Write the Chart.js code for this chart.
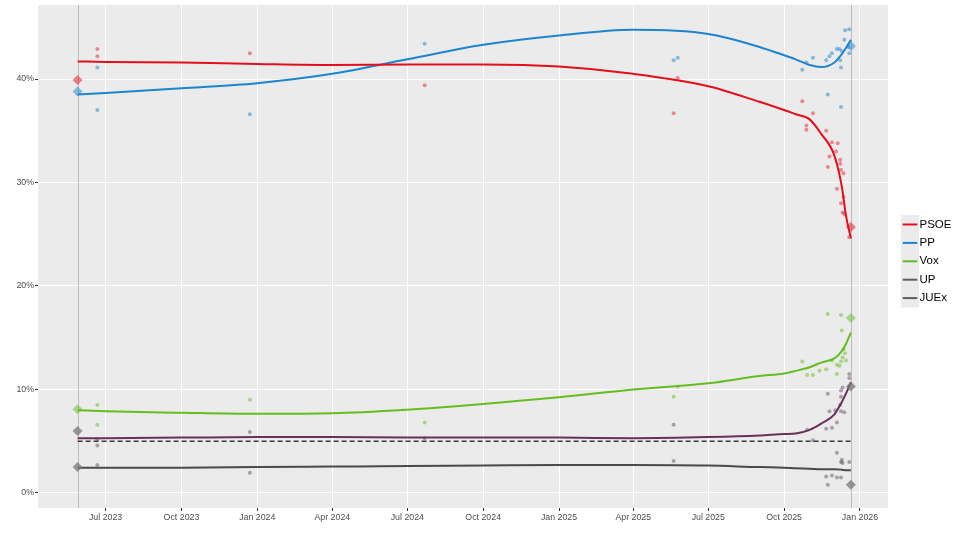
<!DOCTYPE html>
<html>
<head>
<meta charset="utf-8">
<script src="https://cdn.jsdelivr.net/npm/chart.js@4.4.1/dist/chart.umd.min.js"></script>
<style>
  html, body { margin: 0; padding: 0; background: #fff; }
  #wrap { width: 960px; height: 534px; }
</style>
</head>
<body>
<div id="wrap"><canvas id="pollChart" width="960" height="534"></canvas></div>
<script>
/* Data */
const parties = ['PSOE', 'PP', 'Vox', 'UP', 'JUEx'];
const tickDates = ['2023-07-01', '2023-10-01', '2024-01-01', '2024-04-01', '2024-07-01', '2024-10-01',
  '2025-01-01', '2025-04-01', '2025-07-01', '2025-10-01', '2026-01-01'];
const tickLabels = ['Jul 2023', 'Oct 2023', 'Jan 2024', 'Apr 2024', 'Jul 2024', 'Oct 2024',
  'Jan 2025', 'Apr 2025', 'Jul 2025', 'Oct 2025', 'Jan 2026'];
const yTicks = [0, 10, 20, 30, 40];
const axisStart = '2023-04-10';
const axisEnd = '2026-02-04';

// election days (results as diamonds)
const electionDates = ['2023-05-28', '2025-12-21'];
const psoeResults = [39.9, 25.7];
const ppResults = [38.8, 43.2];
const voxResults = [8.1, 16.9];
const upResults = [6.0, 10.3];
const juexResults = [2.5, 0.8];
const thresholdLine = [5, 5];

// smoothed trends
const trendDates = ['2023-05-28', '2023-07-01', '2023-10-01', '2024-01-01', '2024-04-01', '2024-07-01',
  '2024-10-01', '2025-01-01', '2025-04-01', '2025-07-01', '2025-09-01', '2025-10-01', '2025-10-15',
  '2025-11-01', '2025-11-15', '2025-12-01', '2025-12-10', '2025-12-15', '2025-12-21'];
const psoeTrend = [41.7, 41.65, 41.6, 41.45, 41.35, 41.4, 41.4, 41.2, 40.5, 39.3, 37.8, 37.0, 36.6, 36.1, 34.7, 32.6, 29.6, 26.8, 24.6];
const ppTrend = [38.5, 38.65, 39.1, 39.6, 40.5, 41.9, 43.3, 44.2, 44.75, 44.35, 43.1, 42.3, 41.9, 41.35, 41.15, 41.6, 42.4, 43.0, 43.8];
const voxTrend = [8.0, 7.9, 7.75, 7.65, 7.7, 8.05, 8.6, 9.25, 10.0, 10.6, 11.3, 11.55, 11.8, 12.15, 12.6, 13.0, 13.7, 14.4, 15.5];
const upTrend = [5.3, 5.3, 5.35, 5.4, 5.4, 5.35, 5.35, 5.35, 5.3, 5.4, 5.55, 5.7, 5.75, 6.1, 6.7, 7.6, 8.8, 9.6, 10.7];
const juexTrend = [2.45, 2.45, 2.45, 2.5, 2.55, 2.6, 2.65, 2.7, 2.7, 2.65, 2.5, 2.45, 2.4, 2.35, 2.3, 2.3, 2.25, 2.2, 2.2];

// individual polls
const psoePollDates = ['2023-06-21', '2023-06-21', '2023-12-23', '2024-07-22', '2025-05-20', '2025-05-25',
  '2025-10-23', '2025-10-28', '2025-10-28', '2025-11-05', '2025-11-21', '2025-11-23', '2025-11-25',
  '2025-11-28', '2025-12-03', '2025-12-04', '2025-12-05', '2025-12-08', '2025-12-08', '2025-12-09',
  '2025-12-09', '2025-12-11', '2025-12-12', '2025-12-12', '2025-12-13', '2025-12-19'];
const psoePolls = [42.9, 42.2, 42.5, 39.4, 36.7, 40.1, 37.85, 35.5, 35.1, 36.7, 35.0, 31.5, 32.5,
  33.9, 33.0, 29.4, 33.8, 31.8, 32.2, 31.2, 28.0, 27.1, 30.9, 28.6, 26.95, 24.7];

const ppPollDates = ['2023-06-21', '2023-06-21', '2023-12-23', '2024-07-22', '2025-05-20', '2025-05-25',
  '2025-10-23', '2025-10-28', '2025-11-05', '2025-11-21', '2025-11-23', '2025-11-25', '2025-11-28',
  '2025-12-04', '2025-12-07', '2025-12-08', '2025-12-09', '2025-12-09', '2025-12-10', '2025-12-13',
  '2025-12-14', '2025-12-18', '2025-12-19', '2025-12-19'];
const ppPolls = [41.1, 37.0, 36.6, 43.4, 41.8, 42.05, 40.9, 41.6, 42.05, 41.8, 38.5, 42.2, 42.5,
  42.9, 42.9, 41.8, 41.1, 37.3, 42.7, 43.8, 44.7, 43.1, 44.8, 42.5];

const voxPollDates = ['2023-06-21', '2023-06-21', '2023-12-23', '2024-07-22', '2025-05-20', '2025-05-25',
  '2025-10-23', '2025-10-29', '2025-11-05', '2025-11-13', '2025-11-21', '2025-11-23', '2025-11-28',
  '2025-12-04', '2025-12-04', '2025-12-07', '2025-12-09', '2025-12-09', '2025-12-10', '2025-12-11',
  '2025-12-12', '2025-12-14', '2025-12-15'];
const voxPolls = [8.5, 6.6, 9.0, 6.8, 9.3, 10.3, 12.7, 11.4, 11.4, 11.8, 11.95, 17.3, 12.8,
  12.4, 11.5, 12.3, 17.2, 12.7, 15.7, 13.1, 13.9, 13.5, 12.8];

const upPollDates = ['2023-06-21', '2023-06-21', '2023-12-23', '2024-07-22', '2025-05-20',
  '2025-10-29', '2025-11-05', '2025-11-21', '2025-11-23', '2025-11-25', '2025-11-28', '2025-12-02',
  '2025-12-04', '2025-12-08', '2025-12-09', '2025-12-09', '2025-12-09', '2025-12-11', '2025-12-13',
  '2025-12-19', '2025-12-19'];
const upPolls = [5.2, 4.6, 5.9, 5.3, 6.6, 6.1, 5.1, 6.2, 9.6, 7.9, 6.3, 8.0,
  6.8, 8.5, 9.9, 9.3, 7.9, 10.2, 7.8, 11.1, 11.5];

const juexPollDates = ['2023-06-21', '2023-12-23', '2025-05-20', '2025-11-21', '2025-11-23', '2025-11-28',
  '2025-12-04', '2025-12-04', '2025-12-09', '2025-12-09', '2025-12-10', '2025-12-11', '2025-12-19'];
const juexPolls = [2.7, 1.95, 3.1, 1.6, 0.8, 1.7, 3.9, 1.5, 1.5, 3.0, 3.2, 2.9, 3.0];

/* Colours */
const lineColors = ['#E3101C', '#1D84CE', '#63BE21', '#6B2F5E', '#4A4A4A'];
const legendColors = ['#E3101C', '#1D84CE', '#63BE21', '#5E5E5E', '#5E5E5E'];
const pollColors = ['rgba(227,16,28,0.45)', 'rgba(29,132,206,0.5)', 'rgba(99,190,33,0.5)',
  'rgba(110,80,110,0.5)', 'rgba(90,90,90,0.5)'];
const resultColors = ['rgba(227,16,28,0.5)', 'rgba(29,132,206,0.5)', 'rgba(99,190,33,0.5)',
  'rgba(120,120,120,0.75)', 'rgba(120,120,120,0.75)'];
const fontFamily = "'Liberation Sans', Arial, sans-serif";

//-----------------------------------------------//
/* helpers */
//-----------------------------------------------//
const day = (s) => Date.UTC(+s.slice(0, 4), +s.slice(5, 7) - 1, +s.slice(8, 10)) / 864e5;
const toPoints = (dates, values) => dates.map((d, i) => ({ x: day(d), y: values[i] }));

function pollSet(dates, values, color) {
  return {
    data: toPoints(dates, values),
    showLine: false,
    pointRadius: 2,
    pointBorderWidth: 0,
    pointBackgroundColor: color,
    pointHoverRadius: 2,
    order: 3,
  };
}
function trendSet(values, color) {
  return {
    data: toPoints(trendDates, values),
    borderColor: color,
    borderWidth: 2,
    pointRadius: 0,
    cubicInterpolationMode: 'monotone',
    fill: false,
    order: 2,
  };
}
function resultSet(values, color) {
  return {
    data: toPoints(electionDates, values),
    showLine: false,
    pointStyle: 'rectRot',
    pointRadius: 5,
    pointBorderWidth: 0,
    pointBackgroundColor: color,
    order: 1,
  };
}

const polls = [[psoePollDates, psoePolls], [ppPollDates, ppPolls], [voxPollDates, voxPolls],
  [upPollDates, upPolls], [juexPollDates, juexPolls]];
const trends = [psoeTrend, ppTrend, voxTrend, upTrend, juexTrend];
const results = [psoeResults, ppResults, voxResults, upResults, juexResults];

let datasets = [];
polls.forEach((p, i) => datasets.push(pollSet(p[0], p[1], pollColors[i])));
datasets.push({
  data: toPoints(electionDates, thresholdLine),
  borderColor: '#3A3A3A',
  borderWidth: 1.3,
  borderDash: [5, 3],
  pointRadius: 0,
  order: 2,
});
trends.forEach((t, i) => datasets.push(trendSet(t, lineColors[i])));
results.forEach((r, i) => datasets.push(resultSet(r, resultColors[i])));

//-----------------------------------------------//
/* panel background, election lines, legend */
//-----------------------------------------------//
const panelPlugin = {
  id: 'panel',
  beforeDraw(chart) {
    const { ctx, chartArea: a } = chart;
    ctx.save();
    ctx.fillStyle = '#EBEBEB';
    ctx.fillRect(a.left, a.top, a.width, a.height);
    ctx.restore();
  },
  beforeDatasetsDraw(chart) {
    const { ctx, chartArea: a, scales } = chart;
    ctx.save();
    ctx.strokeStyle = '#BDBDBD';
    ctx.lineWidth = 1;
    electionDates.forEach((d) => {
      const px = Math.round(scales.x.getPixelForValue(day(d))) + 0.5;
      ctx.beginPath();
      ctx.moveTo(px, a.top);
      ctx.lineTo(px, a.bottom);
      ctx.stroke();
    });
    ctx.restore();
  },
  afterDraw(chart) {
    const { ctx, chartArea: a } = chart;
    const left = a.right + 13;
    const rowH = 18.4;
    const top = 215;
    ctx.save();
    ctx.fillStyle = '#EBEBEB';
    ctx.fillRect(left, top, 18, rowH * parties.length + 0.5);
    ctx.font = '11.5px ' + fontFamily;
    ctx.textBaseline = 'middle';
    parties.forEach((name, i) => {
      const y = top + 9.5 + i * rowH;
      ctx.strokeStyle = legendColors[i];
      ctx.lineWidth = 2;
      ctx.beginPath();
      ctx.moveTo(left + 1.7, y);
      ctx.lineTo(left + 16.3, y);
      ctx.stroke();
      ctx.fillStyle = '#000';
      ctx.fillText(name, left + 18.5, y);
    });
    ctx.restore();
  },
};

//-----------------------------------------------//
/* Poll chart */
//-----------------------------------------------//
let ctx = document.getElementById('pollChart').getContext('2d');
let pollChart = new Chart(ctx, {
  type: 'line',
  data: { datasets: datasets },
  options: {
    responsive: false,
    animation: false,
    layout: { padding: { left: 0, right: 72, top: 4, bottom: 0 } },
    plugins: {
      legend: { display: false },
      tooltip: { enabled: false },
    },
    scales: {
      x: {
        type: 'linear',
        min: day(axisStart),
        max: day(axisEnd),
        border: { display: false },
        grid: { color: '#FFFFFF', lineWidth: 1, tickColor: '#333333', tickLength: 3 },
        afterBuildTicks: (scale) => {
          scale.ticks = tickDates.map((d) => ({ value: day(d) }));
        },
        afterFit: (scale) => {
          scale.height = 26;
          scale.paddingLeft = 0;
          scale.paddingRight = 0;
        },
        ticks: {
          autoSkip: false,
          maxRotation: 0,
          padding: 1,
          color: '#4D4D4D',
          font: { family: fontFamily, size: 8.8 },
          callback: (v, i) => tickLabels[i],
        },
      },
      y: {
        min: -1.45,
        max: 47.15,
        border: { display: false },
        grid: { color: '#FFFFFF', lineWidth: 1, tickColor: '#333333', tickLength: 3 },
        afterBuildTicks: (scale) => {
          scale.ticks = yTicks.map((v) => ({ value: v }));
        },
        afterFit: (scale) => {
          scale.width = 38;
          scale.paddingTop = 0;
          scale.paddingBottom = 0;
        },
        ticks: {
          padding: 1,
          color: '#4D4D4D',
          font: { family: fontFamily, size: 8.8 },
          callback: (v) => v + '%',
        },
      },
    },
  },
  plugins: [panelPlugin],
});
</script>
</body>
</html>
